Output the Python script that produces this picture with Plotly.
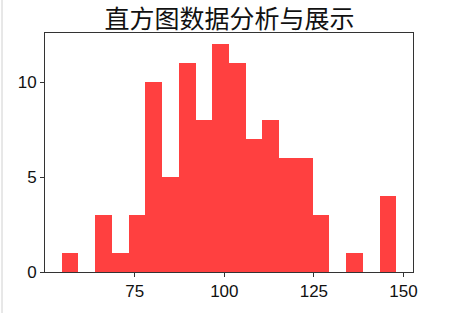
import plotly.graph_objects as go

# Histogram data (20 equal bins)
bin_start = 54.6
bin_width = 4.67
counts = [1, 0, 3, 1, 3, 10, 5, 11, 8, 12, 11, 7, 8, 6, 6, 3, 0, 1, 0, 4]
x_ticks = [75, 100, 125, 150]
y_ticks = [0, 5, 10]
title = "直方图数据分析与展示"

centers = [bin_start + bin_width * (i + 0.5) for i in range(len(counts))]
lo = bin_start
hi = bin_start + bin_width * len(counts)
pad = 0.05 * (hi - lo)

fig = go.Figure(go.Bar(
    x=centers, y=counts, width=[bin_width] * len(counts),
    marker=dict(color="#FF4040", line=dict(width=0)),
))

axis_common = dict(showline=True, linecolor="#333333", linewidth=1, mirror=True,
                   ticks="outside", ticklen=4, tickcolor="#333333", showgrid=False,
                   zeroline=False, tickfont=dict(family="Liberation Sans, Arial", size=17, color="#111111"))

fig.update_layout(
    width=473, height=313,
    margin=dict(l=45, r=60, t=33, b=41),
    paper_bgcolor="white", plot_bgcolor="white",
    bargap=0, showlegend=False,
    title=dict(text=title, x=229.5 / 473, xanchor="center", y=1 - 19 / 313, yanchor="middle",
               font=dict(family="Noto Sans CJK SC", size=25, color="#111111")),
    xaxis=dict(range=[lo - pad, hi + pad], tickvals=x_ticks, **axis_common),
    yaxis=dict(range=[0, max(counts) * 1.05], tickvals=y_ticks, **axis_common),
    shapes=[dict(type="line", xref="paper", yref="paper", x0=-43 / 368, x1=-43 / 368,
                 y0=-41 / 239, y1=1 + 33 / 239, line=dict(color="#d0d0d0", width=1))],
)

fig.write_html("out.html")
